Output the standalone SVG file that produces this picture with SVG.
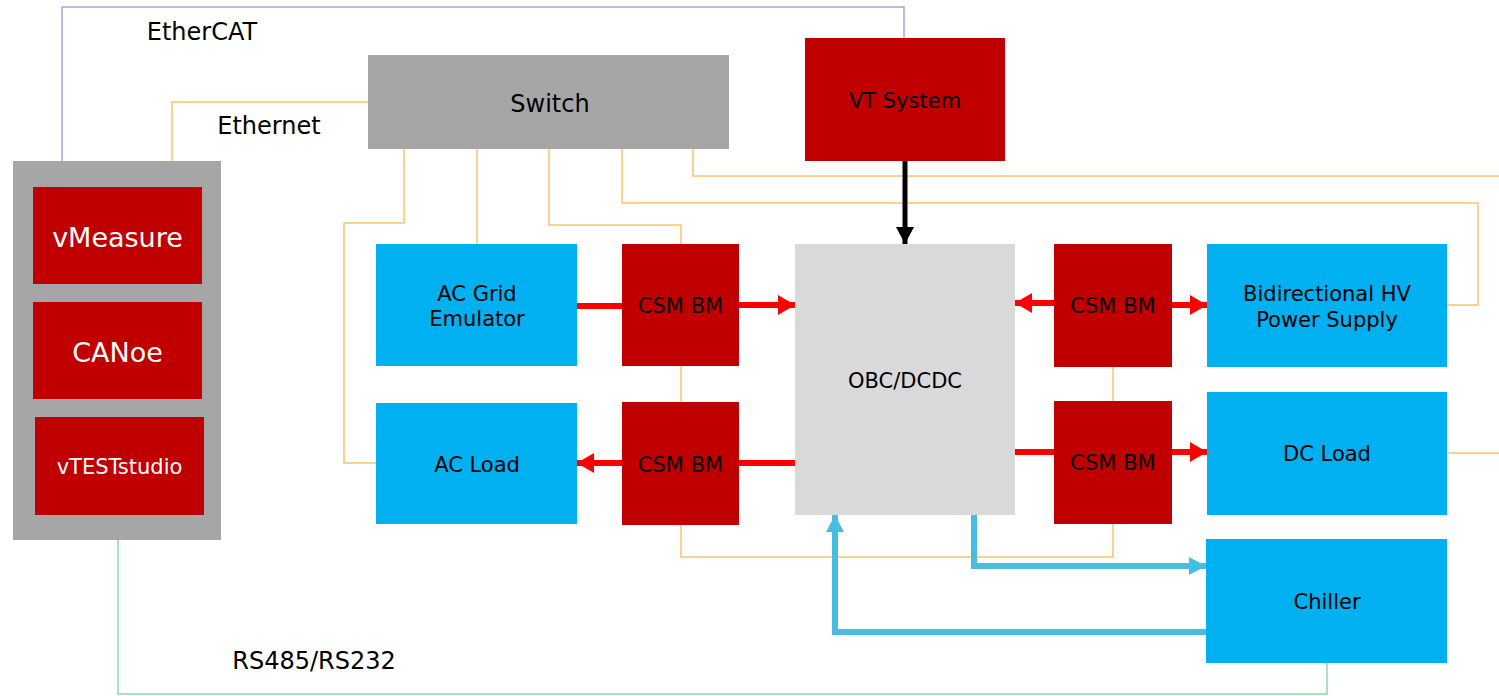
<svg xmlns="http://www.w3.org/2000/svg" width="1499" height="696" viewBox="0 0 1499 696">
<style>
text{font-family:"DejaVu Sans","Verdana",sans-serif;text-anchor:middle;dominant-baseline:central;fill:#000}
.lbl{font-size:24px}
.n{font-size:21px}
.w{fill:#fff;font-size:27px}
.red{fill:#C00000}
.blue{fill:#00B0F0}
.gray{fill:#A6A6A6}
.eth{fill:none;stroke:#F7C46C;stroke-width:1.5}
.ecat{fill:none;stroke:#B79FD9;stroke-width:1.5}
.rs{fill:none;stroke:#8FD9AA;stroke-width:1.5}
.ra{fill:none;stroke:#FF0000;stroke-width:6}
.ba{fill:none;stroke:#47BEDF;stroke-width:6}
.ka{fill:none;stroke:#000;stroke-width:5}
</style>
<defs>
<marker id="mr" markerUnits="userSpaceOnUse" markerWidth="18" markerHeight="20" refX="17" refY="10" orient="auto"><path d="M0,0 L17,10 L0,20 Z" fill="#FF0000"/></marker>
<marker id="mb" markerUnits="userSpaceOnUse" markerWidth="18" markerHeight="20" refX="17" refY="10" orient="auto"><path d="M0,1 L17,10 L0,19 Z" fill="#47BEDF"/></marker>
<marker id="mk" markerUnits="userSpaceOnUse" markerWidth="18" markerHeight="20" refX="17" refY="10" orient="auto"><path d="M0,1 L17,10 L0,19 Z" fill="#000"/></marker>
</defs>
<g id="connectors">
<path class="ecat" d="M62,161 V7 H904 V38"/>
<path class="eth" d="M172,161 V102 H368"/>
<path class="eth" d="M404,149 V223 H344 V463 H376"/>
<path class="eth" d="M477,149 V244"/>
<path class="eth" d="M549,149 V225 H681 V244"/>
<path class="eth" d="M622,149 V203 H1478 V305 H1447"/>
<path class="eth" d="M693,149 V176 H1499"/>
<path class="eth" d="M1447,453 H1499"/>
<path class="eth" d="M681,366 V402"/>
<path class="eth" d="M1113,367 V401"/>
<path class="eth" d="M681,525 V557 H1113 V524"/>
<path class="rs" d="M118,540 V694 H1327 V663"/>
<path class="ka" d="M905,161 V244" marker-end="url(#mk)"/>
<path class="ra" d="M577,306 H622"/>
<path class="ra" d="M739,305 H795" marker-end="url(#mr)"/>
<path class="ra" d="M1054,303 H1015" marker-end="url(#mr)"/>
<path class="ra" d="M1172,305 H1207" marker-end="url(#mr)"/>
<path class="ra" d="M795,463 H739"/>
<path class="ra" d="M622,463 H577" marker-end="url(#mr)"/>
<path class="ra" d="M1015,452 H1054"/>
<path class="ra" d="M1172,452 H1207" marker-end="url(#mr)"/>
<path class="ba" d="M974,515 V566 H1206" marker-end="url(#mb)"/>
<path class="ba" d="M1206,632 H835 V515" marker-end="url(#mb)"/>
</g>
<g id="pc"><rect class="gray" x="13" y="161" width="208" height="379"/></g>
<g id="vmeasure"><rect class="red" x="33" y="187" width="169" height="97"/><text class="w" x="117.5" y="237">vMeasure</text></g>
<g id="canoe"><rect class="red" x="33" y="302" width="169" height="97"/><text class="w" x="117.5" y="352">CANoe</text></g>
<g id="vteststudio"><rect class="red" x="35" y="417" width="169" height="98"/><text class="n" x="119.5" y="467" style="fill:#fff">vTESTstudio</text></g>
<g id="switch"><rect class="gray" x="368" y="55" width="361" height="94"/><text class="lbl" x="550" y="104">Switch</text></g>
<g id="vtsystem"><rect class="red" x="805" y="38" width="200" height="123"/><text class="n" x="905" y="101">VT System</text></g>
<g id="acgrid"><rect class="blue" x="376" y="244" width="201" height="122"/><text class="n" x="477" y="294">AC Grid</text><text class="n" x="477" y="319">Emulator</text></g>
<g id="csm1"><rect class="red" x="622" y="244" width="117" height="122"/><text class="n" x="680.5" y="306">CSM BM</text></g>
<g id="obc"><rect x="795" y="244" width="220" height="271" fill="#D9D9D9"/><text class="n" x="905" y="381">OBC/DCDC</text></g>
<g id="csm2"><rect class="red" x="1054" y="244" width="118" height="123"/><text class="n" x="1113" y="306">CSM BM</text></g>
<g id="hvps"><rect class="blue" x="1207" y="244" width="240" height="123"/><text class="n" x="1327" y="294">Bidirectional HV</text><text class="n" x="1327" y="320">Power Supply</text></g>
<g id="acload"><rect class="blue" x="376" y="403" width="201" height="121"/><text class="n" x="477" y="465">AC Load</text></g>
<g id="csm3"><rect class="red" x="622" y="402" width="117" height="123"/><text class="n" x="680.5" y="465">CSM BM</text></g>
<g id="csm4"><rect class="red" x="1054" y="401" width="118" height="123"/><text class="n" x="1113" y="463">CSM BM</text></g>
<g id="dcload"><rect class="blue" x="1207" y="392" width="240" height="123"/><text class="n" x="1327" y="454">DC Load</text></g>
<g id="chiller"><rect class="blue" x="1206" y="539" width="241" height="124"/><text class="n" x="1327" y="602">Chiller</text></g>
<g id="labels">
<text class="lbl" x="202" y="32">EtherCAT</text>
<text class="lbl" x="269" y="126">Ethernet</text>
<text class="lbl" x="314" y="661">RS485/RS232</text>
</g>
</svg>
